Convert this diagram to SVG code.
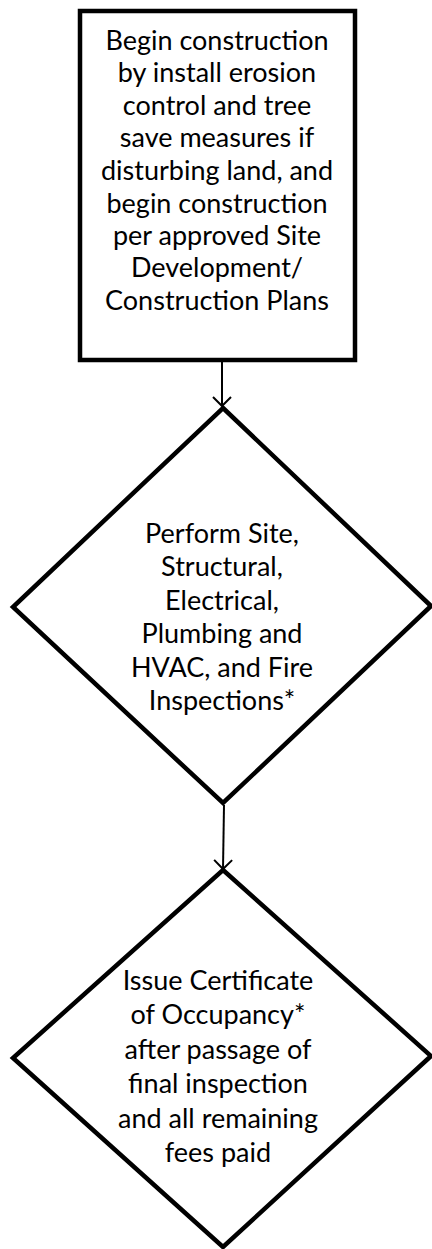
<svg xmlns="http://www.w3.org/2000/svg" width="432" height="1249" viewBox="0 0 432 1249">
<style>
.shape{fill:#fff;stroke:#000;stroke-width:4.5;stroke-linejoin:miter}
.lbl{font-family:Lato,"Liberation Sans",sans-serif;font-size:27px;fill:#000;text-anchor:middle}
.conn{stroke:#000;stroke-width:2;fill:none}
</style>
<defs>
<marker id="arr" markerWidth="20" markerHeight="20" refX="10" refY="10" orient="auto" markerUnits="userSpaceOnUse">
<path d="M1,1 L10,10 L1,19" fill="none" stroke="#000" stroke-width="2"/>
</marker>
</defs>
<rect width="432" height="1249" fill="#fff"/>
<g id="connectors">
<line class="conn" x1="222" y1="362" x2="222" y2="406" marker-end="url(#arr)"/>
<line class="conn" x1="224" y1="805" x2="223" y2="869" marker-end="url(#arr)"/>
</g>
<g id="node-begin">
<rect class="shape" x="80" y="11" width="275" height="349"/>
<text class="lbl"><tspan x="217" y="50">Begin construction</tspan><tspan x="217" y="82">by install erosion</tspan><tspan x="217" y="115">control and tree</tspan><tspan x="217" y="147">save measures if</tspan><tspan x="217" y="180">disturbing land, and</tspan><tspan x="217" y="213">begin construction</tspan><tspan x="217" y="245">per approved Site</tspan><tspan x="217" y="277">Development/</tspan><tspan x="217" y="310">Construction Plans</tspan></text>
</g>
<g id="node-inspections">
<polygon class="shape" points="223,408 431,606 223,803 13,607"/>
<text class="lbl"><tspan x="222" y="543">Perform Site,</tspan><tspan x="222" y="576">Structural,</tspan><tspan x="222" y="610">Electrical,</tspan><tspan x="222" y="643">Plumbing and</tspan><tspan x="222" y="677">HVAC, and Fire</tspan><tspan x="222" y="710">Inspections*</tspan></text>
</g>
<g id="node-certificate">
<polygon class="shape" points="223,870 431,1056 223,1247 13,1058"/>
<text class="lbl"><tspan x="218" y="990">Issue Certificate</tspan><tspan x="218" y="1024">of Occupancy*</tspan><tspan x="218" y="1059">after passage of</tspan><tspan x="218" y="1093">final inspection</tspan><tspan x="218" y="1128">and all remaining</tspan><tspan x="218" y="1162">fees paid</tspan></text>
</g>
</svg>
